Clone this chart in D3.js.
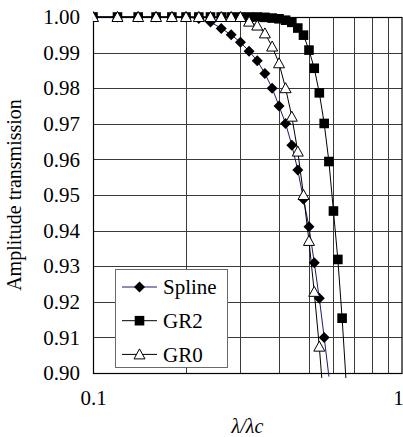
<!DOCTYPE html>
<html>
<head>
<meta charset="utf-8">
<script src="https://cdn.jsdelivr.net/npm/d3@7"></script>
<style>
body { margin: 0; background: #fff; }
text { font-family: "Liberation Serif", "Times New Roman", serif; fill: #000; }
</style>
</head>
<body>
<div id="chart"></div>
<script>
// DATA
var xValues = [0.10, 0.12, 0.14, 0.16, 0.18, 0.20, 0.22, 0.24, 0.26, 0.28,
               0.30, 0.32, 0.34, 0.36, 0.38, 0.40, 0.42, 0.44, 0.46, 0.48,
               0.50, 0.52, 0.54, 0.56, 0.58, 0.60, 0.62, 0.64, 0.66];

var splineValues = [1.0000, 1.0000, 1.0000, 1.0000, 1.0000, 1.0000, 0.9996, 0.9986, 0.9968, 0.9950,
                    0.9929, 0.9904, 0.9877, 0.9841, 0.9800, 0.9750, 0.9701, 0.9640, 0.9570, 0.9488,
                    0.9411, 0.9310, 0.9210, 0.9100, 0.8990, null, null, null, null];

var gr2Values = [1.0000, 1.0000, 1.0000, 1.0000, 1.0000, 1.0000, 1.0000, 1.0000, 1.0000, 1.0000,
                 1.0000, 1.0000, 1.0000, 0.9999, 0.9997, 0.9995, 0.9991, 0.9985, 0.9969, 0.9949,
                 0.9907, 0.9856, 0.9787, 0.9701, 0.9594, 0.9455, 0.9319, 0.9154, 0.8970];

var gr0Values = [1.0000, 1.0000, 1.0000, 1.0000, 1.0000, 1.0000, 1.0000, 1.0000, 1.0000, 1.0000,
                 1.0000, 0.9987, 0.9976, 0.9954, 0.9917, 0.9870, 0.9800, 0.9720, 0.9622, 0.9500,
                 0.9371, 0.9228, 0.9074, 0.8900, null, null, null, null, null];

var seriesNames = ["Spline", "GR2", "GR0"];
var yTicks = [0.90, 0.91, 0.92, 0.93, 0.94, 0.95, 0.96, 0.97, 0.98, 0.99, 1.00];
var xGridTicks = [0.2, 0.3, 0.4, 0.5, 0.6, 0.7, 0.8, 0.9];
var xTickLabels = [0.1, 1];

// width and height
var w = 403, h = 437;
var pLeft = 93, pRight = 402, pTop = 17, pBottom = 373;

var svg = d3.select("#chart")
  .append("svg")
  .attr("width", w)
  .attr("height", h);

var x = d3.scaleLog().domain([0.1, 1]).range([pLeft, pRight]);
var y = d3.scaleLinear().domain([0.9, 1.0]).range([pBottom, pTop]);

// grid lines
svg.append("g")
  .selectAll("line")
  .data(yTicks)
  .enter()
  .append("line")
  .attr("x1", pLeft).attr("x2", pRight)
  .attr("y1", function(d){ return Math.round(y(d)) + 0.5; })
  .attr("y2", function(d){ return Math.round(y(d)) + 0.5; })
  .attr("stroke", "#3a3a3a")
  .attr("stroke-width", 1);

svg.append("g")
  .selectAll("line")
  .data(xGridTicks)
  .enter()
  .append("line")
  .attr("y1", pTop).attr("y2", pBottom)
  .attr("x1", function(d){ return Math.round(x(d)) + 0.5; })
  .attr("x2", function(d){ return Math.round(x(d)) + 0.5; })
  .attr("stroke", "#3a3a3a")
  .attr("stroke-width", 1);

// plot border
svg.append("rect")
  .attr("x", pLeft + 0.5).attr("y", pTop + 0.5)
  .attr("width", pRight - pLeft - 0.5).attr("height", pBottom - pTop)
  .attr("fill", "none")
  .attr("stroke", "#000")
  .attr("stroke-width", 1.2);

// y axis labels
var yAxis = d3.axisLeft(y)
  .tickValues(yTicks)
  .tickFormat(d3.format(".2f"))
  .tickSize(0)
  .tickPadding(13);

svg.append("g")
  .attr("transform", "translate(" + pLeft + ",0)")
  .call(yAxis)
  .call(function(g){ g.select(".domain").remove(); })
  .selectAll("text")
  .style("font-family", "Liberation Serif")
  .style("font-size", "21px");

// x axis labels
var xAxis = d3.axisBottom(x)
  .tickValues(xTickLabels)
  .tickFormat(function(d){ return d === 1 ? "1" : "0.1"; })
  .tickSize(0)
  .tickPadding(17);

svg.append("g")
  .attr("transform", "translate(0," + pBottom + ")")
  .call(xAxis)
  .call(function(g){ g.select(".domain").remove(); })
  .selectAll("text")
  .style("font-family", "Liberation Serif")
  .style("font-size", "21px")
  .attr("dx", function(d){ return d === 1 ? -4 : 0; });

// axis titles
svg.append("text")
  .attr("transform", "translate(21," + ((pTop + pBottom) / 2) + ") rotate(-90)")
  .attr("text-anchor", "middle")
  .style("font-size", "20px")
  .text("Amplitude transmission");

svg.append("text")
  .attr("x", (pLeft + pRight) / 2)
  .attr("y", 433)
  .attr("text-anchor", "middle")
  .style("font-size", "20px")
  .style("font-style", "italic")
  .text("λ/λc");

// clip
svg.append("clipPath")
  .attr("id", "plotClip")
  .append("rect")
  .attr("x", pLeft).attr("y", 0)
  .attr("width", pRight - pLeft).attr("height", pBottom + 5);

var series = [
  { name: seriesNames[0], values: splineValues, color: "#1a1a6e", shape: "diamond" },
  { name: seriesNames[1], values: gr2Values, color: "#000", shape: "square" },
  { name: seriesNames[2], values: gr0Values, color: "#000", shape: "triangle" }
];

var line = d3.line()
  .defined(function(d){ return d[1] !== null; })
  .x(function(d){ return x(d[0]); })
  .y(function(d){ return y(d[1]); });

// marker shapes
var shapes = {
  diamond: "M0,-5.5L5.5,0L0,5.5L-5.5,0Z",
  square: "M-4.8,-4.8H4.8V4.8H-4.8Z",
  triangle: "M0,-5.5L5.5,4.5H-5.5Z"
};

function markerStyle(sel, s) {
  sel.attr("d", shapes[s.shape])
    .attr("fill", s.shape === "triangle" ? "#fff" : "#000")
    .attr("stroke", "#000")
    .attr("stroke-width", s.shape === "triangle" ? 1 : 0);
}

var plot = svg.append("g").attr("clip-path", "url(#plotClip)");

// lines first
series.forEach(function(s){
  var pts = xValues.map(function(xv, i){ return [xv, s.values[i]]; });
  plot.append("path")
    .datum(pts)
    .attr("fill", "none")
    .attr("stroke", s.color)
    .attr("stroke-width", 1)
    .attr("d", line);
});

// markers
series.forEach(function(s){
  var pts = xValues.map(function(xv, i){ return [xv, s.values[i]]; })
    .filter(function(d){ return d[1] !== null && d[1] >= 0.9; });
  plot.append("g")
    .selectAll("path")
    .data(pts)
    .enter()
    .append("path")
    .attr("transform", function(d){
      return "translate(" + x(d[0]) + "," + y(d[1]) + ")";
    })
    .call(markerStyle, s);
});

// legend
var legend = svg.append("g");
legend.append("rect")
  .attr("x", 115.5).attr("y", 269.5)
  .attr("width", 112).attr("height", 98)
  .attr("fill", "#fff")
  .attr("stroke", "#6a6a6a")
  .attr("stroke-width", 1);

series.forEach(function(s, i){
  var ly = 287 + i * 33.7;
  legend.append("line")
    .attr("x1", 122).attr("x2", 157)
    .attr("y1", ly).attr("y2", ly)
    .attr("stroke", s.color)
    .attr("stroke-width", 1);
  legend.append("path")
    .attr("transform", "translate(139.5," + ly + ")")
    .call(markerStyle, s);
  legend.append("text")
    .attr("x", 163)
    .attr("y", ly)
    .attr("dy", "0.35em")
    .style("font-size", "21px")
    .text(s.name);
});
</script>
</body>
</html>
